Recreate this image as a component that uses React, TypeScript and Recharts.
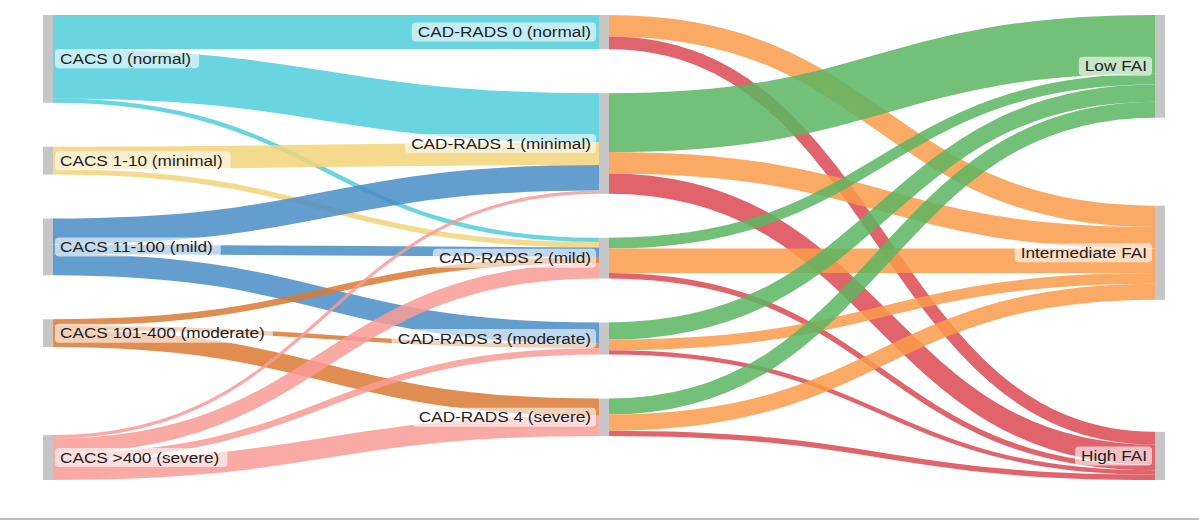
import React from 'react';
import { Sankey } from 'recharts';

// ---- categories ----
const cacsLevels = [
  'CACS 0 (normal)',
  'CACS 1-10 (minimal)',
  'CACS 11-100 (mild)',
  'CACS 101-400 (moderate)',
  'CACS >400 (severe)',
];
const cadRadsLevels = [
  'CAD-RADS 0 (normal)',
  'CAD-RADS 1 (minimal)',
  'CAD-RADS 2 (mild)',
  'CAD-RADS 3 (moderate)',
  'CAD-RADS 4 (severe)',
];
const faiLevels = ['Low FAI', 'Intermediate FAI', 'High FAI'];

// ---- flows (rows: CACS, cols: CAD-RADS 0..4) ----
const cacsToCadRads = [
  [32, 46, 4, 0, 0],
  [0, 21, 5, 0, 0],
  [0, 24, 9, 20, 0],
  [0, 0, 6, 4, 16],
  [0, 3, 14, 6, 19],
];
// ---- flows (rows: CAD-RADS, cols: Low / Intermediate / High FAI) ----
const cadRadsToFai = [
  [0, 20, 12],
  [55, 20, 19],
  [10, 23, 5],
  [16, 10, 4],
  [15, 15, 5],
];

// empty zero-value layout slots (Sankey has a single nodePadding for all columns)
const leftColumn = [cacsLevels[0], cacsLevels[1], cacsLevels[2], cacsLevels[3], 'gap-L', cacsLevels[4]];
const rightColumn = [faiLevels[0], 'gap-R1', faiLevels[1], 'gap-R2', 'gap-R3', faiLevels[2]];

const colors: Record<string, string> = {
  'CACS 0 (normal)': '#4dcedc',
  'CACS 1-10 (minimal)': '#f1d378',
  'CACS 11-100 (mild)': '#498dc7',
  'CACS 101-400 (moderate)': '#da7933',
  'CACS >400 (severe)': '#f99b95',
  'Low FAI': '#5ab560',
  'Intermediate FAI': '#f99b49',
  'High FAI': '#dc4954',
};

const nodeNames = [...leftColumn, ...cadRadsLevels, ...rightColumn];
const idx = (n: string) => nodeNames.indexOf(n);
const links: { source: number; target: number; value: number }[] = [];
cacsToCadRads.forEach((row, i) =>
  row.forEach((v, j) => {
    if (v > 0) links.push({ source: idx(cacsLevels[i]), target: idx(cadRadsLevels[j]), value: v });
  }),
);
cadRadsToFai.forEach((row, i) =>
  row.forEach((v, j) => {
    if (v > 0) links.push({ source: idx(cadRadsLevels[i]), target: idx(faiLevels[j]), value: v });
  }),
);
links.push({ source: idx('gap-L'), target: idx('gap-R2'), value: 0 });

const sankeyData = {
  nodes: nodeNames.map((name) => ({ name, gap: name.startsWith('gap-') })),
  links,
};

const FONT = '14px "Liberation Sans", Arial, sans-serif';
const SX = 1.23;
let ctx: CanvasRenderingContext2D | null = null;
function textWidth(s: string): number {
  if (!ctx) ctx = document.createElement('canvas').getContext('2d');
  if (!ctx) return s.length * 7.5;
  ctx.font = FONT;
  return ctx.measureText(s).width;
}

const SankeyNode = (props: any) => {
  const { x, y, width, height, payload } = props;
  if (!payload || payload.gap) return <g />;
  const depth = payload.depth;
  const cy = y + height / 2;
  const tw = textWidth(payload.name) * SX;
  let textStart: number;
  let bgX: number;
  let bgW: number;
  if (depth === 0) {
    textStart = x + width + 7;
    bgX = textStart - 5;
    bgW = tw + 13;
  } else {
    const textEnd = x - 8;
    textStart = textEnd - tw;
    bgX = textStart - 6;
    bgW = tw + 11;
  }
  return (
    <g>
      <rect x={x} y={y} width={width} height={height} fill="#c6c6c6" />
      <rect x={bgX} y={cy - 9.5} width={bgW} height={19} rx={4} ry={4} fill="#ffffff" fillOpacity={0.6} />
      <g transform={`translate(${textStart},${cy}) scale(${SX},1)`}>
        <text
          x={0}
          y={0}
          dy="0.36em"
          textAnchor="start"
          fontSize={14}
          fontFamily='"Liberation Sans", Arial, sans-serif'
          fill="#222"
        >
          {payload.name}
        </text>
      </g>
    </g>
  );
};

const SankeyLink = (props: any) => {
  const { sourceX, sourceY, sourceControlX, targetX, targetY, targetControlX, linkWidth, payload } = props;
  if (!payload || !(linkWidth > 0) || payload.value <= 0) return <g />;
  const src = payload.source;
  const tgt = payload.target;
  const color = src && src.depth === 0 ? colors[src.name] : colors[tgt?.name];
  return (
    <path
      d={`M${sourceX},${sourceY} C${sourceControlX},${sourceY} ${targetControlX},${targetY} ${targetX},${targetY}`}
      fill="none"
      stroke={color}
      strokeWidth={linkWidth}
      strokeOpacity={0.85}
    />
  );
};

export default function App() {
  return (
    <div style={{ position: 'absolute', left: 0, top: 0, width: 1199, height: 520, background: '#fff' }}>
      <Sankey
        width={1199}
        height={500}
        data={sankeyData}
        margin={{ top: 15, bottom: 20, left: 43, right: 34 }}
        nodeWidth={10}
        nodePadding={44}
        iterations={0}
        sort={false}
        linkCurvature={0.5}
        node={SankeyNode}
        link={SankeyLink}
      />
      <div style={{ position: 'absolute', left: 0, top: 518, width: 1199, height: 2, background: '#bdbdbd' }} />
    </div>
  );
}
